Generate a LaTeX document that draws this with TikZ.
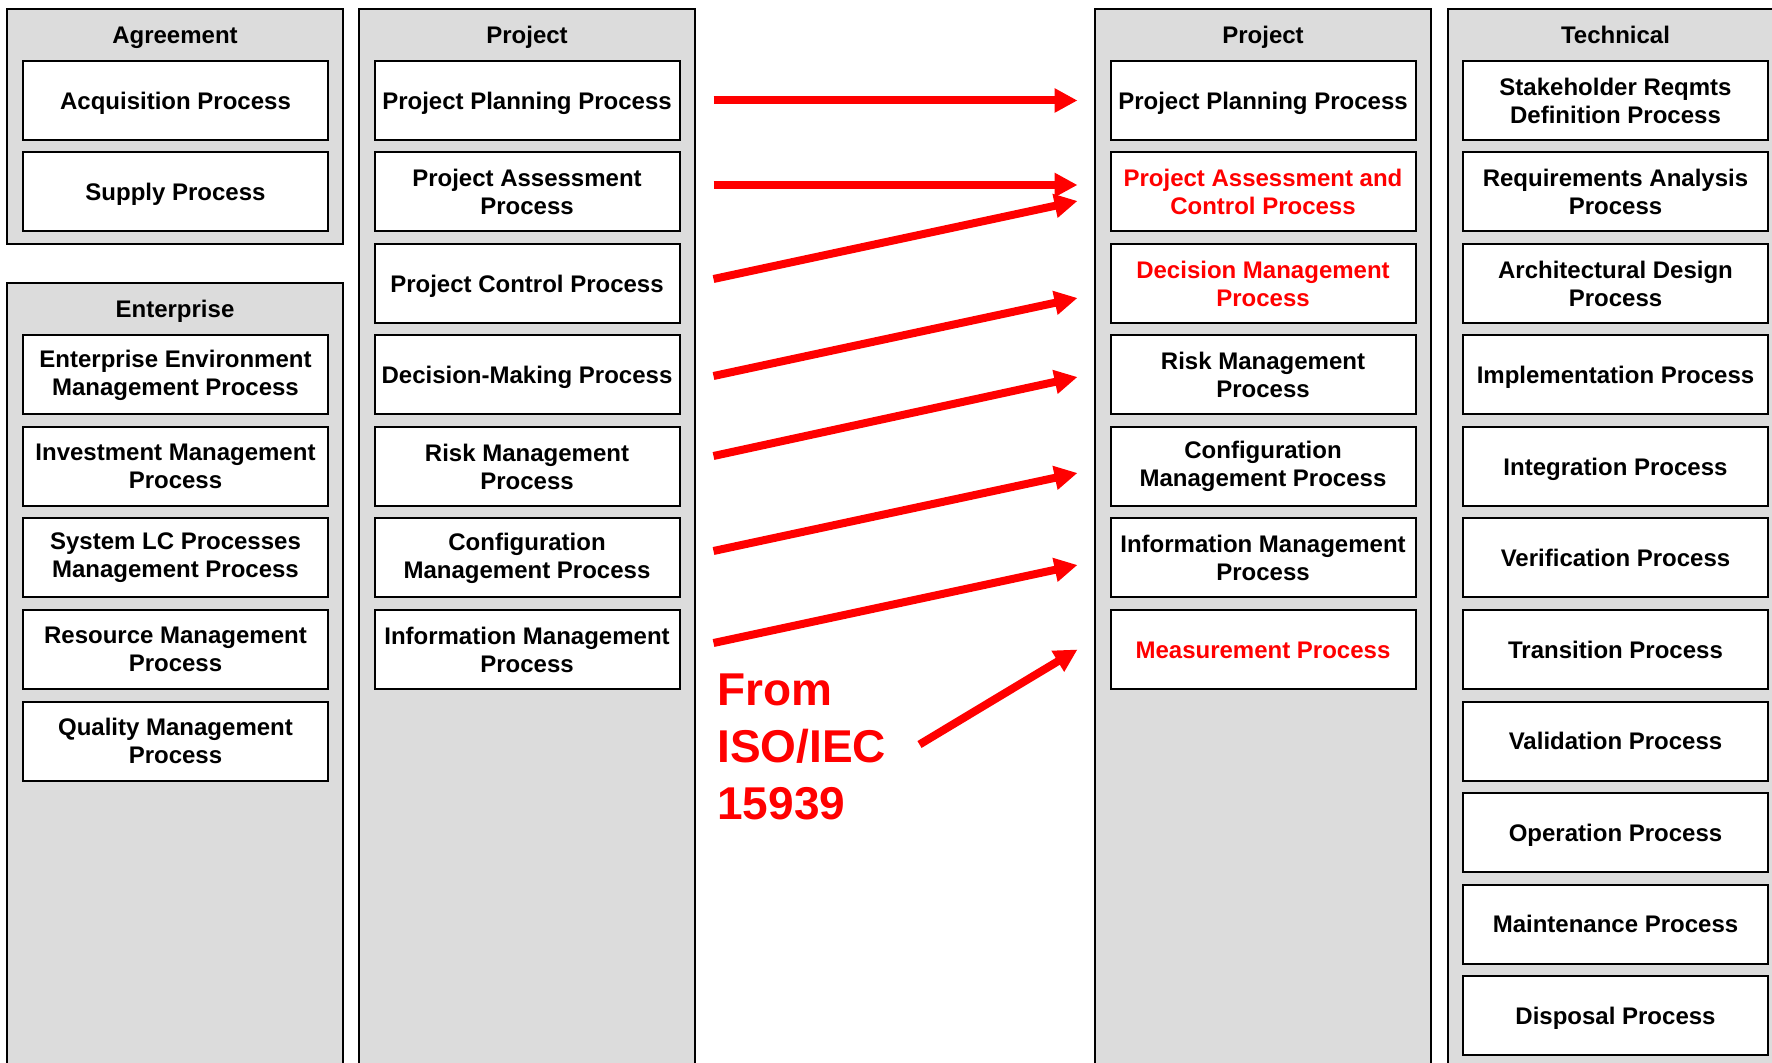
\documentclass[tikz,border=0pt]{standalone}
\usepackage{fontspec}
\setmainfont{Liberation Sans}
\usetikzlibrary{arrows.meta, positioning}

\definecolor{panelgray}{RGB}{220,220,220}

\tikzset{
  panel/.style={fill=panelgray, draw=black, line width=1pt},
  proc/.style={draw, line width=1pt, fill=white, inner sep=0pt,
    minimum width=152.5pt, minimum height=39.5pt, align=center,
    font=\bfseries\fontsize{12}{14}\selectfont},
  oneline/.style={proc, text height=8.75pt, text depth=0pt},
  hot/.style={text=red},
  paneltitle/.style={anchor=base, font=\bfseries\fontsize{12}{14}\selectfont},
  link/.style={-{Triangle[length=11.5pt, width=11.5pt]}, red, line width=4pt},
}

\begin{document}
\begin{tikzpicture}[x=0.5pt, y=-0.5pt]
  \useasboundingbox (0,0) rectangle (1772,1063);
  \clip (0,0) rectangle (1772,1063);
  \fill[white] (0,0) rectangle (1772,1063);

  % Panels
  \draw[panel] (7,9) rectangle (343,244);
  \draw[panel] (7,283) rectangle (343,1080);
  \draw[panel] (359,9) rectangle (695,1080);
  \draw[panel] (1095,9) rectangle (1431,1080);
  \draw[panel] (1448,9) rectangle (1784,1080);

  % Panel titles
  \node[paneltitle] (tag) at (175,44) {Agreement};
  \node[paneltitle] (ten) at (175,318) {Enterprise};
  \node[paneltitle] (tpl) at (527,44) {Project};
  \node[paneltitle] (tpr) at (1263,44) {Project};
  \node[paneltitle] (tte) at (1615.5,44) {Technical};

  % Agreement processes
  \node[oneline] (ag1) at (175.5,100.5) {Acquisition Process};
  \node[oneline] (ag2) at (175.5,192) {Supply Process};

  % Enterprise processes
  \node[proc] (en1) at (175.5,375) {Enterprise Environment\\Management Process};
  \node[proc] (en2) at (175.5,466.5) {Investment Management\\Process};
  \node[proc] (en3) at (175.5,558) {System LC Processes\\Management Process};
  \node[proc] (en4) at (175.5,649.5) {Resource Management\\Process};
  \node[proc] (en5) at (175.5,741) {Quality Management\\Process};

  % Project processes (old)
  \node[oneline] (pl1) at (527,100.5) {Project Planning Process};
  \node[proc] (pl2) at (527,192) {Project Assessment\\Process};
  \node[oneline] (pl3) at (527,283.5) {Project Control Process};
  \node[oneline] (pl4) at (527,375) {Decision-Making Process};
  \node[proc] (pl5) at (527,466.5) {Risk Management\\Process};
  \node[proc] (pl6) at (527,558) {Configuration\\Management Process};
  \node[proc] (pl7) at (527,649.5) {Information Management\\Process};

  % Project processes (new)
  \node[oneline] (pr1) at (1263,100.5) {Project Planning Process};
  \node[proc, hot] (pr2) at (1263,192) {Project Assessment and\\Control Process};
  \node[proc, hot] (pr3) at (1263,283.5) {Decision Management\\Process};
  \node[proc] (pr4) at (1263,375) {Risk Management\\Process};
  \node[proc] (pr5) at (1263,466.5) {Configuration\\Management Process};
  \node[proc] (pr6) at (1263,558) {Information Management\\Process};
  \node[oneline, hot] (pr7) at (1263,649.5) {Measurement Process};

  % Technical processes
  \node[proc] (te1) at (1615.5,100.5) {Stakeholder Reqmts\\Definition Process};
  \node[proc] (te2) at (1615.5,192) {Requirements Analysis\\Process};
  \node[proc] (te3) at (1615.5,283.5) {Architectural Design\\Process};
  \node[oneline] (te4) at (1615.5,375) {Implementation Process};
  \node[oneline] (te5) at (1615.5,466.5) {Integration Process};
  \node[oneline] (te6) at (1615.5,558) {Verification Process};
  \node[oneline] (te7) at (1615.5,649.5) {Transition Process};
  \node[oneline] (te8) at (1615.5,741) {Validation Process};
  \node[oneline] (te9) at (1615.5,832.5) {Operation Process};
  \node[oneline] (te10) at (1615.5,924) {Maintenance Process};
  \node[oneline] (te11) at (1615.5,1015.5) {Disposal Process};

  % Source note
  \node[anchor=north west, inner sep=0pt, align=left, text=red,
    font=\bfseries\fontsize{23}{28.5}\selectfont]
    (iso) at (717,673) {From\\ISO/IEC\\15939};

  % Mapping arrows
  \draw[link] ([xshift=16.5pt]pl1.east) -- ([xshift=-16pt]pr1.west);
  \draw[link] ([xshift=16.5pt,yshift=3.5pt]pl2.east) -- ([xshift=-16pt,yshift=3.5pt]pr2.west);
  \draw[link] ([xshift=16.5pt,yshift=2.25pt]pl3.east) -- ([xshift=-16pt,yshift=-4.5pt]pr2.west);
  \draw[link] ([xshift=16.5pt,yshift=-0.5pt]pl4.east) -- ([xshift=-16pt,yshift=-7.25pt]pr3.west);
  \draw[link] ([xshift=16.5pt,yshift=5.25pt]pl5.east) -- ([xshift=-16pt,yshift=-1pt]pr4.west);
  \draw[link] ([xshift=16.5pt,yshift=3.5pt]pl6.east) -- ([xshift=-16pt,yshift=-3.25pt]pr5.west);
  \draw[link] ([xshift=16.5pt,yshift=3.25pt]pl7.east) -- ([xshift=-16pt,yshift=-3.5pt]pr6.west);
  \draw[link] ([xshift=16.5pt,yshift=1pt]iso.east) -- ([xshift=-16pt]pr7.west);
\end{tikzpicture}
\end{document}
